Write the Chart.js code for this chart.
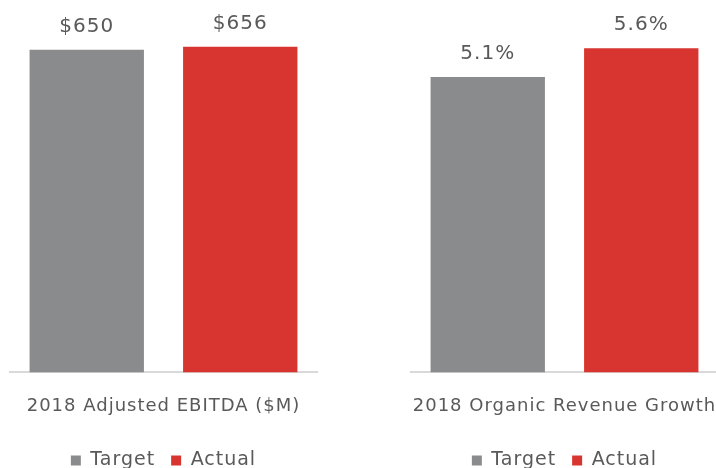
<!DOCTYPE html>
<html>
<head>
<meta charset="utf-8">
<script src="https://cdn.jsdelivr.net/npm/chart.js@4"></script>
<style>
  html, body { margin: 0; padding: 0; background: #fff; }
  body { width: 716px; height: 468px; overflow: hidden; position: relative; }
  canvas { position: absolute; top: 0; }
  #ebitdaChart { left: 0; }
  #growthChart { left: 400px; }
</style>
</head>
<body>
<canvas id="ebitdaChart" width="330" height="480"></canvas>
<canvas id="growthChart" width="330" height="480"></canvas>
<script>
// Data
const seriesNames = ['Target', 'Actual'];
const ebitdaCategories = ['2018 Adjusted EBITDA ($M)'];
const ebitdaTarget = [650];
const ebitdaActual = [656];
const growthCategories = ['2018 Organic Revenue Growth'];
const growthTarget = [5.1];
const growthActual = [5.6];

const GRAY = '#8a8b8d';
const RED = '#d93530';
const TEXT = '#595959';
const FONT = "'DejaVu Sans', sans-serif";

// wide letters, closer to the original typeface
const spacing = {
    id: 'spacing',
    beforeUpdate(chart) { chart.ctx.letterSpacing = '1px'; },
    beforeDraw(chart) { chart.ctx.letterSpacing = '1px'; }
};

// draws the value above each bar
const valueLabels = {
    id: 'valueLabels',
    afterDatasetsDraw(chart, args, opts) {
        const ctx = chart.ctx;
        ctx.save();
        ctx.fillStyle = TEXT;
        ctx.font = '20px ' + FONT;
        ctx.textAlign = 'center';
        ctx.textBaseline = 'bottom';
        chart.data.datasets.forEach((ds, i) => {
            chart.getDatasetMeta(i).data.forEach((bar, j) => {
                ctx.fillText(opts.format(ds.data[j]), bar.x, bar.y - 13);
            });
        });
        ctx.restore();
    }
};

function makeChart(id, labels, target, actual, yMax, format, padLeft, padRight) {
    const ctx = document.getElementById(id).getContext('2d');
    return new Chart(ctx, {
        type: 'bar',
        data: {
            labels: labels,
            datasets: [
                { label: seriesNames[0], data: target, backgroundColor: GRAY },
                { label: seriesNames[1], data: actual, backgroundColor: RED }
            ]
        },
        options: {
            responsive: false,
            animation: false,
            categoryPercentage: 1,
            barPercentage: 0.745,
            layout: { padding: { top: 25, left: padLeft, right: padRight, bottom: 0 } },
            plugins: {
                legend: {
                    position: 'bottom',
                    labels: {
                        boxWidth: 10,
                        boxHeight: 10,
                        padding: 16,
                        color: TEXT,
                        font: { family: FONT, size: 19 }
                    }
                },
                tooltip: { enabled: false },
                valueLabels: { format: format }
            },
            scales: {
                y: { display: false, min: 0, max: yMax },
                x: {
                    grid: { display: false, drawTicks: false },
                    border: { display: true, color: '#d9d9d9', width: 2 },
                    ticks: {
                        color: TEXT,
                        padding: 23,
                        maxRotation: 0,
                        font: { family: FONT, size: 18 }
                    },
                    afterFit(scale) {
                        // long label must not squeeze the bars
                        scale.paddingLeft = 0;
                        scale.paddingRight = 0;
                        scale.height -= 5;
                    }
                }
            }
        },
        plugins: [spacing, valueLabels]
    });
}

makeChart('ebitdaChart', ebitdaCategories, ebitdaTarget, ebitdaActual, 700, v => '$' + v, 10, 13);
makeChart('growthChart', growthCategories, growthTarget, growthActual, 6, v => v.toFixed(1) + '%', 11, 12);
</script>
</body>
</html>
